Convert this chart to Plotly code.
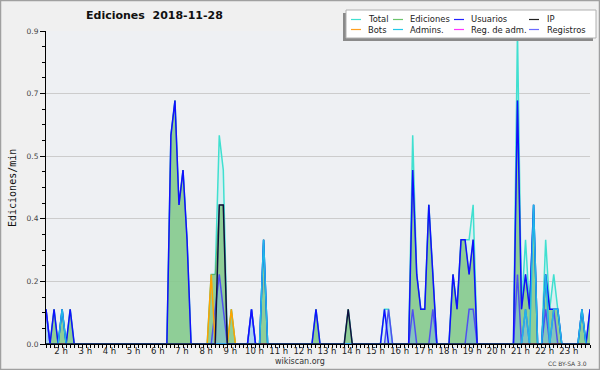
import plotly.graph_objects as go

# ---------------- data ----------------
# one point every 10 minutes, from 1:30 to 24:00 (hours)
hours = [1.5 + i / 6 for i in range(136)]
hour_ticks = list(range(2, 24))
hour_labels = [f"{h} h" for h in hour_ticks]
y_ticks = [0, 0.18, 0.36, 0.54, 0.72, 0.9]
y_labels = ["0.0", "0.2", "0.4", "0.5", "0.7", "0.9"]

total = [
    0.1, 0, 0.1,                      # 1:30-1:50
    0, 0.1, 0, 0.1, 0, 0,             # 2 h
    0, 0, 0, 0, 0, 0,                 # 3 h
    0, 0, 0, 0, 0, 0,                 # 4 h
    0, 0, 0, 0, 0, 0,                 # 5 h
    0, 0, 0, 0, 0.6, 0.7,             # 6 h
    0.4, 0.5, 0.3, 0, 0, 0,           # 7 h
    0, 0, 0.2, 0.2, 0.6, 0.5,         # 8 h
    0, 0.1, 0, 0, 0, 0,               # 9 h
    0.1, 0, 0, 0.3, 0, 0,             # 10 h
    0, 0, 0, 0, 0, 0,                 # 11 h
    0, 0, 0, 0, 0.1, 0,               # 12 h
    0, 0, 0, 0, 0, 0,                 # 13 h
    0.1, 0, 0, 0, 0, 0,               # 14 h
    0, 0, 0, 0.1, 0.1, 0,             # 15 h
    0, 0, 0, 0, 0.6, 0.2,             # 16 h
    0.1, 0.1, 0.4, 0.2, 0, 0,         # 17 h
    0, 0, 0.2, 0.1, 0.3, 0.3,         # 18 h
    0.3, 0.4, 0, 0, 0, 0,             # 19 h
    0, 0, 0, 0, 0, 0,                 # 20 h
    0.9, 0.1, 0.3, 0.1, 0.4, 0,       # 21 h
    0, 0.3, 0.1, 0.2, 0.1, 0,         # 22 h
    0, 0, 0, 0, 0.1, 0,               # 23 h
    0.1,                              # 24 h
]
ediciones = [
    0, 0, 0.1,
    0, 0.1, 0, 0.1, 0, 0,
    0, 0, 0, 0, 0, 0,
    0, 0, 0, 0, 0, 0,
    0, 0, 0, 0, 0, 0,
    0, 0, 0, 0, 0.6, 0.7,
    0.4, 0.5, 0.3, 0, 0, 0,
    0, 0, 0.2, 0.2, 0.4, 0.4,
    0, 0.1, 0, 0, 0, 0,
    0, 0, 0, 0.3, 0, 0,
    0, 0, 0, 0, 0, 0,
    0, 0, 0, 0, 0.1, 0,
    0, 0, 0, 0, 0, 0,
    0.1, 0, 0, 0, 0, 0,
    0, 0, 0, 0, 0, 0,
    0, 0, 0, 0, 0.5, 0.2,
    0.1, 0.1, 0.4, 0.2, 0, 0,
    0, 0, 0.2, 0.1, 0.3, 0.3,
    0.2, 0.3, 0, 0, 0, 0,
    0, 0, 0, 0, 0, 0,
    0.7, 0.1, 0.2, 0.1, 0.4, 0,
    0, 0.2, 0.1, 0.1, 0.1, 0,
    0, 0, 0, 0, 0.1, 0,
    0.1,
]
usuarios = [
    0.1, 0, 0.1,
    0, 0.1, 0, 0.1, 0, 0,
    0, 0, 0, 0, 0, 0,
    0, 0, 0, 0, 0, 0,
    0, 0, 0, 0, 0, 0,
    0, 0, 0, 0, 0.6, 0.7,
    0.4, 0.5, 0.3, 0, 0, 0,
    0, 0, 0, 0, 0, 0,
    0, 0, 0, 0, 0, 0,
    0.1, 0, 0, 0.3, 0, 0,
    0, 0, 0, 0, 0, 0,
    0, 0, 0, 0, 0.1, 0,
    0, 0, 0, 0, 0, 0,
    0, 0, 0, 0, 0, 0,
    0, 0, 0, 0.1, 0, 0,
    0, 0, 0, 0, 0.5, 0.2,
    0.1, 0.1, 0.4, 0.2, 0, 0,
    0, 0, 0.2, 0.1, 0.3, 0.3,
    0.2, 0.3, 0, 0, 0, 0,
    0, 0, 0, 0, 0, 0,
    0.7, 0.1, 0.2, 0.1, 0.4, 0,
    0, 0.2, 0.1, 0.1, 0.1, 0,
    0, 0, 0, 0, 0.1, 0,
    0.1,
]
ip = [
    0, 0, 0,
    0, 0, 0, 0, 0, 0,
    0, 0, 0, 0, 0, 0,
    0, 0, 0, 0, 0, 0,
    0, 0, 0, 0, 0, 0,
    0, 0, 0, 0, 0, 0,
    0, 0, 0, 0, 0, 0,
    0, 0, 0, 0, 0.4, 0.4,
    0, 0, 0, 0, 0, 0,
    0, 0, 0, 0, 0, 0,
    0, 0, 0, 0, 0, 0,
    0, 0, 0, 0, 0, 0,
    0, 0, 0, 0, 0, 0,
    0.1, 0, 0, 0, 0, 0,
    0, 0, 0, 0, 0, 0,
    0, 0, 0, 0, 0, 0,
    0, 0, 0, 0, 0, 0,
    0, 0, 0, 0, 0, 0,
    0, 0, 0, 0, 0, 0,
    0, 0, 0, 0, 0, 0,
    0, 0, 0, 0, 0, 0,
    0, 0, 0, 0, 0, 0,
    0, 0, 0, 0, 0, 0,
    0,
]
bots = [
    0, 0, 0,
    0, 0, 0, 0, 0, 0,
    0, 0, 0, 0, 0, 0,
    0, 0, 0, 0, 0, 0,
    0, 0, 0, 0, 0, 0,
    0, 0, 0, 0, 0, 0,
    0, 0, 0, 0, 0, 0,
    0, 0, 0.2, 0, 0, 0,
    0, 0.1, 0, 0, 0, 0,
    0, 0, 0, 0, 0, 0,
    0, 0, 0, 0, 0, 0,
    0, 0, 0, 0, 0, 0,
    0, 0, 0, 0, 0, 0,
    0, 0, 0, 0, 0, 0,
    0, 0, 0, 0, 0, 0,
    0, 0, 0, 0, 0, 0,
    0, 0, 0, 0, 0, 0,
    0, 0, 0, 0, 0, 0,
    0, 0, 0, 0, 0, 0,
    0, 0, 0, 0, 0, 0,
    0, 0, 0, 0, 0, 0,
    0, 0, 0, 0, 0, 0,
    0, 0, 0, 0, 0, 0,
    0,
]
admins = [
    0, 0, 0,
    0, 0.1, 0, 0, 0, 0,
    0, 0, 0, 0, 0, 0,
    0, 0, 0, 0, 0, 0,
    0, 0, 0, 0, 0, 0,
    0, 0, 0, 0, 0, 0,
    0, 0, 0, 0, 0, 0,
    0, 0, 0, 0, 0, 0,
    0, 0, 0, 0, 0, 0,
    0, 0, 0, 0.3, 0, 0,
    0, 0, 0, 0, 0, 0,
    0, 0, 0, 0, 0, 0,
    0, 0, 0, 0, 0, 0,
    0, 0, 0, 0, 0, 0,
    0, 0, 0, 0, 0, 0,
    0, 0, 0, 0, 0, 0,
    0, 0, 0, 0, 0, 0,
    0, 0, 0, 0, 0, 0,
    0, 0, 0, 0, 0, 0,
    0, 0, 0, 0, 0, 0,
    0, 0, 0.1, 0, 0.4, 0,
    0, 0.2, 0, 0.1, 0.1, 0,
    0, 0, 0, 0, 0.1, 0,
    0,
]
reg_adm = [
    0, 0, 0,
    0, 0, 0, 0, 0, 0,
    0, 0, 0, 0, 0, 0,
    0, 0, 0, 0, 0, 0,
    0, 0, 0, 0, 0, 0,
    0, 0, 0, 0, 0, 0,
    0, 0, 0, 0, 0, 0,
    0, 0, 0, 0, 0, 0,
    0, 0, 0, 0, 0, 0,
    0, 0, 0, 0, 0, 0,
    0, 0, 0, 0, 0, 0,
    0, 0, 0, 0, 0, 0,
    0, 0, 0, 0, 0, 0,
    0, 0, 0, 0, 0, 0,
    0, 0, 0, 0, 0, 0,
    0, 0, 0, 0, 0, 0,
    0, 0, 0, 0, 0, 0,
    0, 0, 0, 0, 0, 0,
    0, 0, 0, 0, 0, 0,
    0, 0, 0, 0, 0, 0,
    0, 0, 0, 0, 0, 0,
    0, 0, 0, 0, 0, 0,
    0, 0, 0, 0, 0, 0,
    0,
]
registros = [
    0.1, 0, 0,
    0, 0, 0, 0, 0, 0,
    0, 0, 0, 0, 0, 0,
    0, 0, 0, 0, 0, 0,
    0, 0, 0, 0, 0, 0,
    0, 0, 0, 0, 0, 0,
    0, 0, 0, 0, 0, 0,
    0, 0, 0, 0.1, 0.2, 0.1,
    0, 0, 0, 0, 0, 0,
    0.1, 0, 0, 0, 0, 0,
    0, 0, 0, 0, 0, 0,
    0, 0, 0, 0, 0, 0,
    0, 0, 0, 0, 0, 0,
    0, 0, 0, 0, 0, 0,
    0, 0, 0, 0, 0.1, 0,
    0, 0, 0, 0, 0.1, 0,
    0, 0, 0, 0.1, 0, 0,
    0, 0, 0, 0, 0, 0,
    0.1, 0.1, 0, 0, 0, 0,
    0, 0, 0, 0, 0, 0,
    0.2, 0, 0.1, 0, 0, 0,
    0, 0.1, 0, 0.1, 0, 0,
    0, 0, 0, 0, 0, 0,
    0,
]

legend_names = ["Total", "Ediciones", "Usuarios", "IP",
                "Bots", "Admins.", "Reg. de adm.", "Registros"]
legend_colors = ["#40e0d0", "#6cc46c", "#2222ff", "#222222",
                 "#ffa020", "#22c8e8", "#ff33ff", "#6a6aff"]

# ---------------- figure ----------------
L, R, T, B = 46, 10, 31, 26
W, H = 600, 370
PW, PH = W - L - R, H - T - B


def px(x):
    return (x - L) / PW


def py(y):
    return (H - B - y) / PH


fig = go.Figure()


def add(y, color, width, fillcolor=None):
    fig.add_trace(go.Scatter(
        x=hours, y=y, mode="lines",
        line=dict(color=color, width=width),
        fill="tozeroy" if fillcolor else "none",
        fillcolor=fillcolor, hoverinfo="skip", showlegend=False))


add(total, "#40e0d0", 1.5, "rgba(175,238,238,0.35)")
add(ediciones, "rgba(90,170,90,0.8)", 1, "rgba(130,200,135,0.85)")
add(registros, "#4f4ff0", 1.5, "rgba(120,185,235,0.45)")
add(reg_adm, "#ff00ff", 1.5)
add(bots, "#ffa500", 1.5)
add(usuarios, "#1010ff", 1.5)
add(admins, "#20b8e8", 1.5)
add(ip, "#101040", 1.5)

shapes = []
annotations = []

# outer border
shapes.append(dict(type="rect", xref="paper", yref="paper",
                   x0=px(0.5), x1=px(599.5), y0=py(369.5), y1=py(0.5),
                   line=dict(color="#a0a0a0", width=1.5), layer="above"))

# legend box with shadow
shapes.append(dict(type="rect", xref="paper", yref="paper",
                   x0=px(343), x1=px(593), y0=py(41), y1=py(13),
                   fillcolor="#8a8a8a", line=dict(width=0), layer="above"))
shapes.append(dict(type="rect", xref="paper", yref="paper",
                   x0=px(346), x1=px(596), y0=py(38), y1=py(10),
                   fillcolor="white", line=dict(color="#b0b0b0", width=1),
                   layer="above"))
glyph_x = [351, 393, 454, 529]
text_x = [366, 408, 469, 545]
row_y = [19.5, 29.5]
for i, (name, col) in enumerate(zip(legend_names, legend_colors)):
    c, r = i % 4, i // 4
    shapes.append(dict(type="line", xref="paper", yref="paper",
                       x0=px(glyph_x[c]), x1=px(glyph_x[c] + 10),
                       y0=py(row_y[r]), y1=py(row_y[r]),
                       line=dict(color=col, width=1.2), layer="above"))
    annotations.append(dict(text=name, xref="paper", yref="paper",
                            x=px(text_x[c]), y=py(row_y[r]),
                            xanchor="left", yanchor="middle", showarrow=False,
                            font=dict(family="DejaVu Sans", size=8.4, color="#222")))

# title and credits
annotations.append(dict(text="<b>Ediciones  2018-11-28</b>", xref="paper", yref="paper",
                        x=px(154), y=py(16), xanchor="center", yanchor="middle",
                        showarrow=False,
                        font=dict(family="DejaVu Sans", size=11, color="#111")))
annotations.append(dict(text="wikiscan.org", xref="paper", yref="paper",
                        x=px(300), y=py(361.5), xanchor="center", yanchor="middle",
                        showarrow=False,
                        font=dict(family="DejaVu Sans", size=8, color="#333")))
annotations.append(dict(text="CC BY-SA 3.0", xref="paper", yref="paper",
                        x=px(589), y=py(363), xanchor="right", yanchor="middle",
                        showarrow=False,
                        font=dict(family="DejaVu Sans", size=6, color="#444")))
annotations.append(dict(text="Ediciones/min", xref="paper", yref="paper",
                        x=px(12), y=py(188), xanchor="center", yanchor="middle",
                        textangle=-90, showarrow=False,
                        font=dict(family="DejaVu Sans Mono", size=10, color="#111")))

fig.update_layout(
    width=W, height=H,
    margin=dict(l=L, r=R, t=T, b=B, pad=0),
    paper_bgcolor="#f0f0f0", plot_bgcolor="#eef0f3",
    showlegend=False,
    shapes=shapes, annotations=annotations,
    xaxis=dict(
        range=[1.5, 24.0], tickmode="array", tickvals=hour_ticks, ticktext=hour_labels,
        ticks="outside", ticklen=3, tickcolor="#000", tickwidth=1,
        showline=True, linecolor="#000", linewidth=1, showgrid=False, zeroline=False,
        tickfont=dict(family="DejaVu Sans", size=8.5, color="#222"),
        ticklabelshift=3, ticklabelstandoff=-4,
        minor=dict(tickmode="linear", tick0=1.5, dtick=1 / 6, ticks="outside",
                   ticklen=3, tickcolor="#000", showgrid=False),
    ),
    yaxis=dict(
        range=[0, 0.9], tickmode="array", tickvals=y_ticks, ticktext=y_labels,
        ticks="outside", ticklen=5, tickcolor="#000", tickwidth=1,
        showline=True, linecolor="#000", linewidth=1,
        showgrid=True, gridcolor="#cccccc", gridwidth=1, zeroline=False,
        tickfont=dict(family="DejaVu Sans", size=7.5, color="#444"),
        minor=dict(tickmode="linear", tick0=0, dtick=0.045, ticks="outside",
                   ticklen=3, tickcolor="#000", showgrid=False),
    ),
)

fig.write_html("out.html")
